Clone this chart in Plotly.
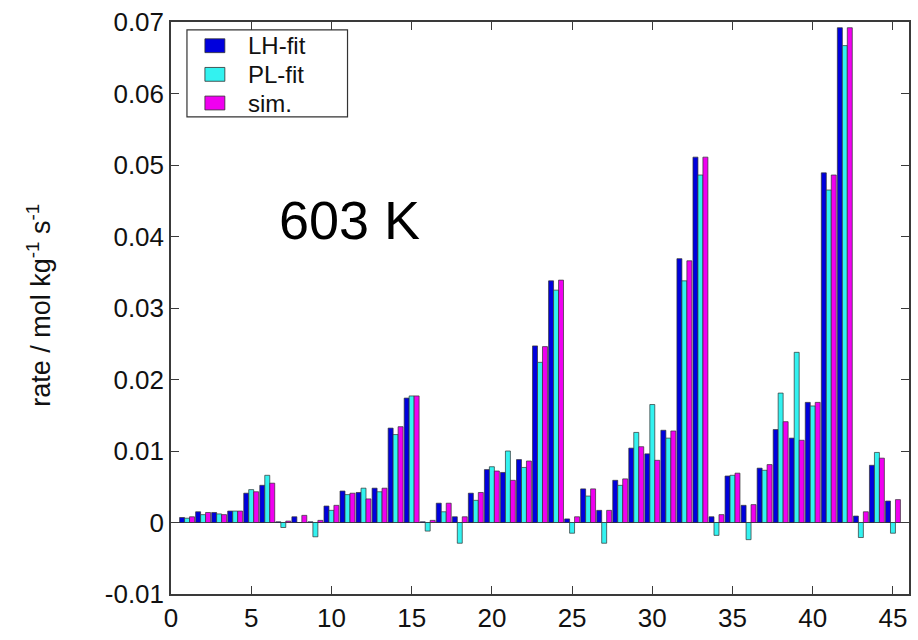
import plotly.graph_objects as go

# reaction index 1..45
cases = list(range(1, 46))

lh_fit = [0.0007, 0.0015, 0.0014, 0.0016, 0.0041, 0.0052, 0.0001, 0.0008, 0.0001, 0.0023,
          0.0044, 0.0042, 0.0048, 0.0132, 0.0174, 0.0001, 0.0027, 0.0008, 0.0041, 0.0074,
          0.0070, 0.0088, 0.0247, 0.0338, 0.0005, 0.0047, 0.0017, 0.0059, 0.0104, 0.0096,
          0.0129, 0.0369, 0.0511, 0.0008, 0.0065, 0.0024, 0.0076, 0.0130, 0.0118, 0.0168,
          0.0489, 0.0692, 0.0009, 0.0080, 0.0030]

pl_fit = [0.0006, 0.0011, 0.0012, 0.0016, 0.0046, 0.0066, -0.0007, 0.0000, -0.0020, 0.0017,
          0.0039, 0.0048, 0.0043, 0.0123, 0.0177, -0.0012, 0.0015, -0.0029, 0.0031, 0.0078,
          0.0100, 0.0077, 0.0224, 0.0325, -0.0015, 0.0037, -0.0029, 0.0052, 0.0126, 0.0165,
          0.0118, 0.0338, 0.0486, -0.0018, 0.0066, -0.0024, 0.0073, 0.0181, 0.0238, 0.0163,
          0.0465, 0.0667, -0.0021, 0.0098, -0.0015]

sim = [0.0008, 0.0014, 0.0011, 0.0016, 0.0043, 0.0055, 0.0002, 0.0010, 0.0003, 0.0024,
       0.0041, 0.0033, 0.0048, 0.0134, 0.0177, 0.0003, 0.0027, 0.0008, 0.0042, 0.0072,
       0.0059, 0.0086, 0.0246, 0.0339, 0.0008, 0.0047, 0.0017, 0.0061, 0.0106, 0.0087,
       0.0128, 0.0366, 0.0511, 0.0011, 0.0069, 0.0025, 0.0081, 0.0141, 0.0115, 0.0168,
       0.0486, 0.0692, 0.0015, 0.0090, 0.0032]

series_names = ["LH-fit", "PL-fit", "sim."]
series_colors = ["#0000dd", "#33f2f0", "#f000f0"]

x_ticks = [0, 5, 10, 15, 20, 25, 30, 35, 40, 45]
y_ticks = [-0.01, 0, 0.01, 0.02, 0.03, 0.04, 0.05, 0.06, 0.07]
y_tick_text = ["-0.01", "0", "0.01", "0.02", "0.03", "0.04", "0.05", "0.06", "0.07"]

FONT = "Liberation Sans, Arial, Helvetica, sans-serif"
AXIS = "#3a3a3a"
OUTLINE = dict(color="#303030", width=0.7)

fig = go.Figure()
for name, vals, col in zip(series_names, [lh_fit, pl_fit, sim], series_colors):
    fig.add_trace(go.Bar(x=cases, y=vals, name=name,
                         marker=dict(color=col, line=OUTLINE)))

axis_common = dict(
    showline=True, linecolor=AXIS, linewidth=1.5, mirror="ticks",
    ticks="inside", ticklen=8, tickwidth=1.2, tickcolor=AXIS,
    showgrid=False, tickfont=dict(family=FONT, size=26, color="#111111"),
)

fig.update_xaxes(range=[0, 46], tickmode="array", tickvals=x_ticks,
                 zeroline=False, **axis_common)
fig.update_yaxes(range=[-0.01, 0.07], tickmode="array", tickvals=y_ticks,
                 ticktext=y_tick_text, zeroline=True, zerolinecolor="#444444",
                 zerolinewidth=1, **axis_common)

fig.add_annotation(x=11.1, y=0.0423, xref="x", yref="y", text="603 K",
                   showarrow=False, font=dict(family=FONT, size=54, color="#000000"))

fig.add_annotation(x=-0.205, y=0.505, xref="paper", yref="paper",
                   text="rate / mol kg<sup>-1</sup> s<sup>-1</sup>", textangle=-90,
                   showarrow=False, font=dict(family=FONT, size=27, color="#111111"))

# compact legend box: frame, colour swatches and labels (paper coordinates)
def px_x(p):
    return (p - 171) / 740.0


def px_y(p):
    return (601 - p) / 579.0


fig.add_shape(type="rect", xref="paper", yref="paper",
              x0=px_x(187), x1=px_x(348), y0=px_y(118), y1=px_y(30),
              line=dict(color="#333333", width=1.2), fillcolor="white", layer="above")
row_centers = [46, 75, 104]
for name, col, yc in zip(series_names, series_colors, row_centers):
    fig.add_shape(type="rect", xref="paper", yref="paper",
                  x0=px_x(205), x1=px_x(225), y0=px_y(yc + 7), y1=px_y(yc - 7),
                  line=dict(color="#303030", width=0.8), fillcolor=col, layer="above")
    fig.add_annotation(x=px_x(246), y=px_y(yc), xref="paper", yref="paper",
                       xanchor="left", yanchor="middle", text=name, showarrow=False,
                       font=dict(family=FONT, size=24, color="#111111"))

fig.update_layout(
    width=918, height=640,
    margin=dict(l=171, r=7, t=22, b=39),
    paper_bgcolor="white", plot_bgcolor="white",
    barmode="group", bargap=0.07, bargroupgap=0,
    showlegend=False,
)

fig.write_html("out.html")
